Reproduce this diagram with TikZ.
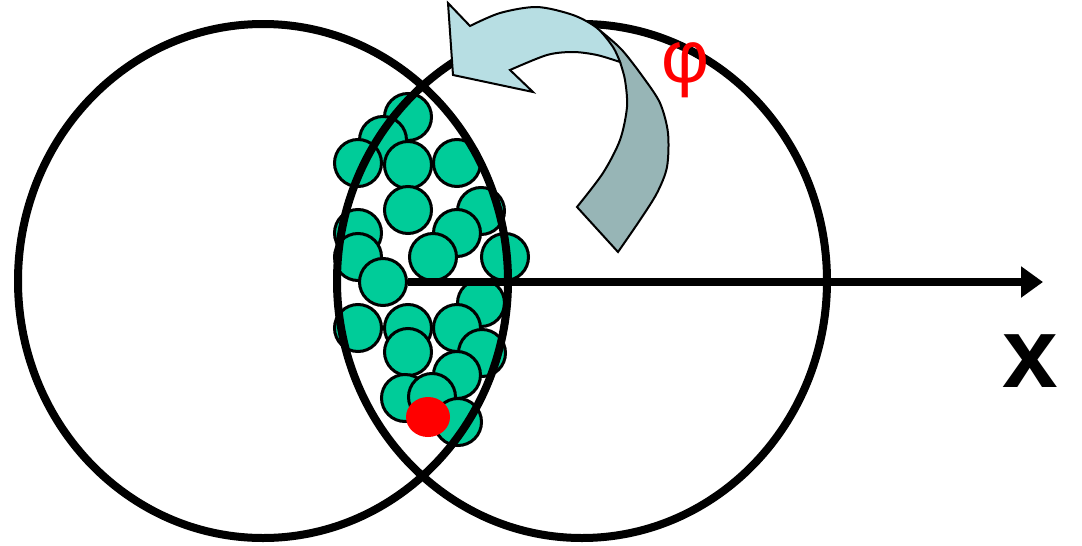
\documentclass[tikz,border=0pt]{standalone}
\usepackage{fontspec}
\setmainfont{Liberation Sans}
\usetikzlibrary{arrows.meta}

\definecolor{ballgreen}{RGB}{0,204,153}
\definecolor{bandlight}{RGB}{183,222,227}
\definecolor{banddark}{RGB}{151,181,182}

\newcommand{\ring}[1]{%
    \draw[line width=8pt] (#1,281) ellipse [x radius=245pt, y radius=257pt];
}

\tikzset{
    ball/.style={circle, draw=black, line width=3pt, fill=ballgreen,
        minimum size=47pt, inner sep=0pt},
    band/.style={draw=black, line width=2pt, line join=miter},
}

\begin{document}
\begin{tikzpicture}[x=1pt, y=-1pt]
    \useasboundingbox (0,0) rectangle (1082,546);
    % Draw the balls in the overlap
    \foreach \x/\y [count=\i] in {408/117, 383/140, 358/163, 408/165, 457/163,
        408/210, 481/211, 457/233, 358/233, 358/257, 433/257, 505/257,
        383/282, 481/303, 358/328, 408/328, 457/328, 408/352, 482/353,
        457/375, 405/398, 432/397, 458/422} {
        \node[ball] (b\i) at (\x,\y) {};
    }
    \fill[red] (428,417) ellipse [x radius=22pt, y radius=20pt];
    % Draw the two rings
    \ring{263}
    \ring{582}
    % Draw the x axis
    \coordinate (xend) at (1043,282);
    \draw[line width=7.5pt, -{Triangle[length=22pt, width=30pt]}] (b13.east) -- (xend);
    \node[font=\bfseries\fontsize{100}{100}\selectfont, inner sep=0pt] (xlabel) at (1030,361) {x};
    % Draw the rotation band
    \filldraw[band, fill=banddark] (603,33)
        -- plot[smooth] coordinates {(603,33) (622,50) (643,77) (660,103) (668,133)
            (667,167) (657,193) (640,220) (618,252)}
        -- (577,207)
        -- plot[smooth] coordinates {(577,207) (603,173) (620,140) (627,107)
            (625,80) (620,62)}
        -- cycle;
    \filldraw[band, fill=bandlight] (448,3) -- (470,26)
        -- plot[smooth] coordinates {(470,26) (500,13) (537,7) (573,15) (597,28)
            (613,47) (620,62)}
        -- plot[smooth] coordinates {(620,62) (597,55) (573,52) (547,55) (510,70)}
        -- (533,92) -- (453,75) -- cycle;
    \node[text=red, font=\fontsize{74}{74}\selectfont, inner sep=0pt] (phi) at (685,70) {φ};
\end{tikzpicture}
\end{document}
